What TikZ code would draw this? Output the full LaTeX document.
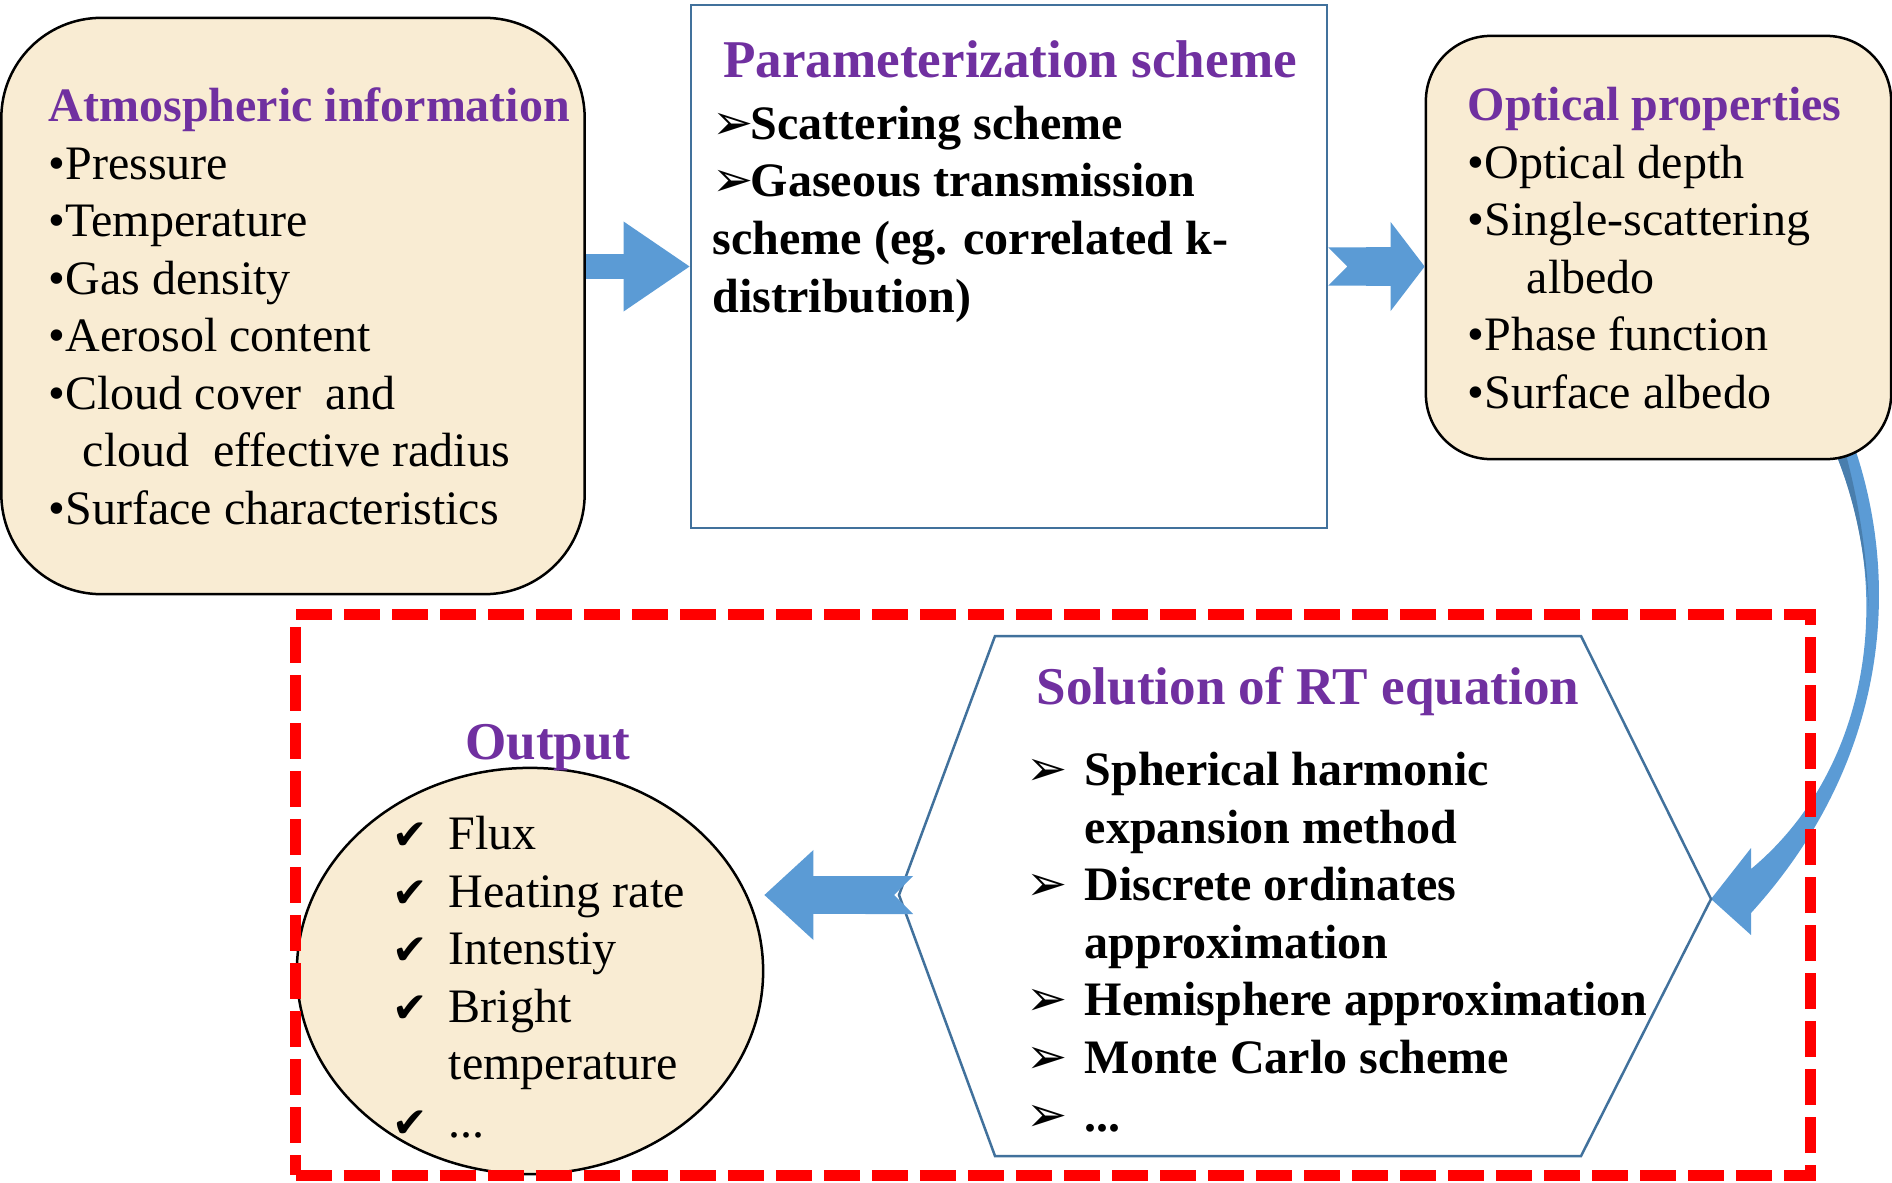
\documentclass[tikz,border=0pt]{standalone}
\usepackage{fontspec}
\setmainfont{Liberation Serif}
\newfontfamily\symfont{DejaVu Sans}
\usetikzlibrary{arrows.meta, shapes.geometric, positioning}

\definecolor{boxbeige}{RGB}{249,236,211}
\definecolor{headpurple}{RGB}{112,48,160}
\definecolor{arrowblue}{RGB}{91,155,213}
\definecolor{edgeblue}{RGB}{65,113,156}
\definecolor{framered}{RGB}{255,0,0}

\newcommand{\bodysize}{\fontsize{13.66pt}{16.36pt}\selectfont}
\newcommand{\headfont}{\fontsize{13.65pt}{16.36pt}\selectfont\bfseries\color{headpurple}}
\newcommand{\arw}[1]{\makebox[#1][l]{\symfont\fontsize{14pt}{14pt}\selectfont ➢}}
\newcommand{\chk}{\makebox[0.56cm][l]{\symfont\fontsize{12pt}{12pt}\selectfont ✔}}

\tikzset{
  infobox/.style={draw=black, line width=0.025cm, fill=boxbeige},
  schemebox/.style={draw=edgeblue, line width=0.025cm, fill=white},
  bodytext/.style={inner sep=0pt, align=left, font=\bodysize},
  headtext/.style={inner sep=0pt, text=headpurple, font=\fontsize{15.1pt}{16.36pt}\selectfont\bfseries},
  blockarrow/.style={draw=arrowblue},
  framebox/.style={draw=framered, line width=0.11cm, dash pattern=on 0.36cm off 0.12cm}
}

\begin{document}
\begin{tikzpicture}[x=0.01cm, y=-0.01cm]
\useasboundingbox (0,0) rectangle (1892,1182);

\coordinate (hexW) at (899,895);
\coordinate (hexE) at (1711,899);

% curved arrow from optical properties down to the solver
\fill[arrowblue] (1830,440) .. controls (1898,590) and (1870,770) .. (1751,869)
  -- (1751,848) -- (hexE) -- (1751,935) -- (1751,913)
  .. controls (1890,760) and (1902,580) .. (1852,440) -- cycle;
\fill[edgeblue!70!arrowblue] (1830,440) .. controls (1852,490) and (1864,540) .. (1869,610)
  .. controls (1866,540) and (1856,490) .. (1842,440) -- cycle;

% top row
\node[infobox, rounded corners=1cm, minimum width=5.83cm, minimum height=5.76cm] (atm) at (293,306) {};
\node[schemebox, minimum width=6.36cm, minimum height=5.23cm] (param) at (1009,266.5) {};
\node[infobox, rounded corners=0.65cm, minimum width=4.65cm, minimum height=4.23cm] (opt) at (1658.5,247.5) {};

% base anchor of a multi-line node sits on its last line
\node[bodytext, anchor=base west] (atmtext) at (48,524.5) {{\headfont Atmospheric information}\\
  •Pressure\\•Temperature\\•Gas density\\•Aerosol content\\•Cloud cover\ \ and\\
  \hspace*{0.34cm}cloud\ \ effective radius\\•Surface characteristics};

\node[headtext, anchor=base] (paramhead) at (1010,78) {Parameterization scheme};
\node[bodytext, font=\bodysize\bfseries, anchor=base west] (paramtext) at (712,312) {\arw{0.38cm}Scattering scheme\\
  \arw{0.38cm}Gaseous transmission\\scheme (eg. correlated k-\\distribution)};

\node[bodytext, anchor=base west] (opttext) at (1467,408.5) {{\headfont Optical properties}\\
  •Optical depth\\•Single-scattering\\\hspace*{0.59cm}albedo\\•Phase function\\•Surface albedo};

% solver hexagon and output ellipse
\draw[schemebox] (hexW) -- (995,636) -- (1581,636) -- (hexE) -- (1581,1156) -- (995,1156) -- cycle;
\node[headtext, anchor=base] (solhead) at (1308,704) {Solution of RT equation};
\node[bodytext, font=\bodysize\bfseries, anchor=base west] (soltext) at (1026,1131) {\arw{0.58cm}Spherical harmonic\\
  \hspace*{0.58cm}expansion method\\\arw{0.58cm}Discrete ordinates\\\hspace*{0.58cm}approximation\\
  \arw{0.58cm}Hemisphere approximation\\\arw{0.58cm}Monte Carlo scheme\\\arw{0.58cm}...};

\node[infobox, ellipse, minimum width=4.66cm, minimum height=4.06cm] (out) at (530,971) {};
\node[headtext, anchor=base] (outhead) at (548,759) {Output};
\node[bodytext, anchor=base west] (outtext) at (392,1137.5) {\chk Flux\\\chk Heating rate\\\chk Intenstiy\\
  \chk Bright\\\hspace*{0.56cm}temperature\\\chk ...};

% block arrows
\draw[blockarrow, line width=0.24cm, -{Triangle[width=0.9cm,length=0.66cm,line width=0pt]}] (atm.east |- param.west) -- (param.west);
\draw[blockarrow, line width=0.38cm, {Triangle Cap[reversed]}-{Triangle[width=0.89cm,length=0.34cm,line width=0pt]}] (param.east) -- (param.east -| opt.west);
\draw[blockarrow, line width=0.38cm, {Triangle Cap[reversed]}-{Triangle[width=0.9cm,length=0.49cm,line width=0pt]}] ([xshift=0.14cm]hexW) -- (hexW -| out.east);

\node[framebox, minimum width=15.14cm, minimum height=5.6cm] (frame) at (1053,895) {};
\end{tikzpicture}
\end{document}
